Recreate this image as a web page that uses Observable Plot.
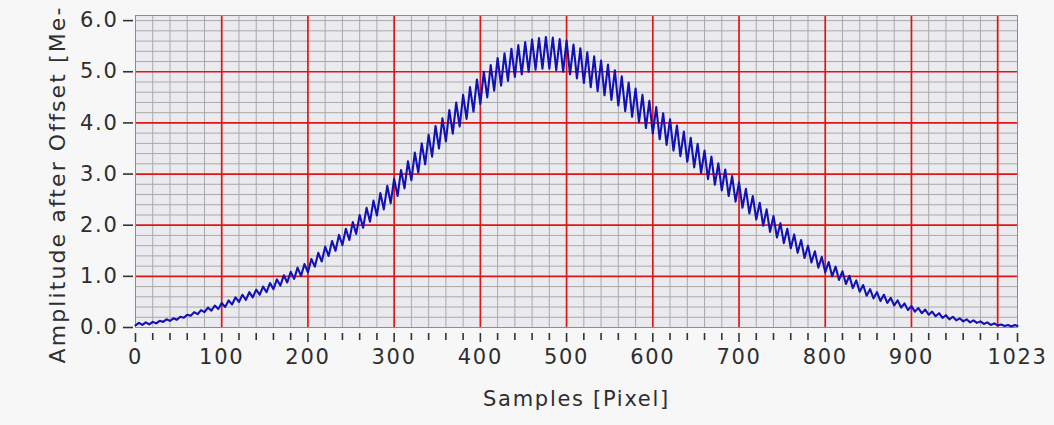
<!DOCTYPE html>
<html>
<head>
<meta charset="utf-8">
<script src="https://cdn.jsdelivr.net/npm/d3@7"></script>
<script src="https://cdn.jsdelivr.net/npm/@observablehq/plot@0.6"></script>
<style>
  html, body { margin: 0; padding: 0; background: #f7f7f7; overflow: hidden; }
  #chart svg text { letter-spacing: 1.7px; }
  #chart svg text[transform*="rotate"] { letter-spacing: 2.1px; }
</style>
</head>
<body>
<div id="chart"></div>
<script>
// Amplitude, one value every 4 samples (alternating trough / peak), last value at sample 1023
const amplitude = [
  0.04,0.09,0.05,0.10,0.06,0.11,0.08,0.13,0.11,0.16,0.13,0.18,0.15,0.21,0.19,0.25,
  0.23,0.30,0.26,0.34,0.30,0.39,0.33,0.43,0.36,0.48,0.40,0.53,0.45,0.59,0.50,0.64,
  0.54,0.69,0.59,0.74,0.64,0.80,0.69,0.87,0.75,0.94,0.82,1.02,0.88,1.09,0.95,1.17,
  1.01,1.24,1.08,1.34,1.19,1.46,1.29,1.58,1.40,1.69,1.50,1.81,1.61,1.93,1.71,2.06,
  1.83,2.20,1.95,2.34,2.07,2.48,2.19,2.63,2.31,2.77,2.43,2.91,2.57,3.08,2.72,3.25,
  2.88,3.42,3.03,3.60,3.19,3.77,3.34,3.94,3.50,4.09,3.64,4.25,3.79,4.40,3.93,4.55,
  4.08,4.70,4.22,4.85,4.37,5.00,4.50,5.13,4.63,5.27,4.73,5.36,4.82,5.45,4.90,5.52,
  4.95,5.58,5.00,5.63,5.04,5.66,5.06,5.68,5.06,5.67,5.03,5.64,5.00,5.61,4.95,5.53,
  4.87,5.46,4.78,5.38,4.70,5.30,4.62,5.22,4.54,5.14,4.45,5.03,4.34,4.91,4.23,4.79,
  4.12,4.67,4.01,4.55,3.90,4.43,3.79,4.31,3.68,4.19,3.57,4.07,3.46,3.95,3.35,3.83,
  3.24,3.71,3.13,3.59,3.02,3.46,2.90,3.34,2.79,3.21,2.68,3.09,2.57,2.96,2.46,2.84,
  2.34,2.71,2.23,2.57,2.11,2.44,1.99,2.31,1.87,2.18,1.76,2.04,1.65,1.93,1.55,1.82,
  1.46,1.71,1.36,1.60,1.27,1.49,1.17,1.38,1.08,1.28,1.00,1.19,0.93,1.10,0.85,1.01,
  0.77,0.92,0.70,0.83,0.62,0.75,0.57,0.69,0.52,0.64,0.48,0.58,0.43,0.53,0.39,0.47,
  0.34,0.42,0.31,0.38,0.28,0.35,0.25,0.31,0.22,0.28,0.19,0.24,0.16,0.21,0.14,0.18,
  0.12,0.16,0.10,0.14,0.09,0.12,0.07,0.10,0.05,0.08,0.04,0.06,0.03,0.05,0.02,0.05,
  0.03
];
const sampleStep = 4;
const lastSample = 1023;

const xLabelTicks = [0, 100, 200, 300, 400, 500, 600, 700, 800, 900, 1023];
const xMinorTicks = [20,40,60,80,120,140,160,180,220,240,260,280,320,340,360,380,420,440,460,480,
  520,540,560,580,620,640,660,680,720,740,760,780,820,840,860,880,920,940,960,980,1000];
const xMajorGrid = [100, 200, 300, 400, 500, 600, 700, 800, 900, 1000];
const xMinorGrid = xMinorTicks;
const yTicks = [0, 1, 2, 3, 4, 5, 6];
const yMajorGrid = [1, 2, 3, 4, 5];
const yMinorGrid = [0.2,0.4,0.6,0.8,1.2,1.4,1.6,1.8,2.2,2.4,2.6,2.8,3.2,3.4,3.6,3.8,
  4.2,4.4,4.6,4.8,5.2,5.4,5.6,5.8,6.0];

const xLabel = "Samples [Pixel]";
const yLabel = "Amplitude after Offset [Me-";

const data = amplitude.map((v, i) => ({
  sample: i === amplitude.length - 1 ? lastSample : i * sampleStep,
  value: v
}));

const font = "'DejaVu Sans', Verdana, sans-serif";

const chart = Plot.plot({
  width: 1054,
  height: 425,
  marginTop: 15,
  marginBottom: 98,
  marginLeft: 135,
  marginRight: 37,
  x: {domain: [0, 1023], axis: null},
  y: {domain: [0, 6.1], axis: null},
  style: {background: "transparent", fontFamily: font, fontSize: "21px", color: "#2e2e2e", overflow: "visible"},
  marks: [
    Plot.frame({fill: "#ebebef"}),
    Plot.ruleX(xMinorGrid, {stroke: "#a9a9a9", strokeWidth: 1}),
    Plot.ruleY(yMinorGrid, {stroke: "#a9a9a9", strokeWidth: 1}),
    Plot.ruleX(xMajorGrid, {stroke: "#e01515", strokeWidth: 1.7}),
    Plot.ruleY(yMajorGrid, {stroke: "#e01515", strokeWidth: 1.7}),
    Plot.frame({stroke: "#8c8c8c", strokeWidth: 1}),
    Plot.line(data, {x: "sample", y: "value", stroke: "#1212b4", strokeWidth: 2.1, strokeLinejoin: "round"}),
    Plot.axisY({ticks: yTicks, tickFormat: d3.format(".1f"), tickSize: 10, tickPadding: 5, dx: -2,
      stroke: "#333", strokeWidth: 1.6, fill: "#2e2e2e", fontSize: 21, label: null}),
    Plot.axisX({ticks: xMinorTicks, tickFormat: () => "", tickSize: 7, dy: 6,
      stroke: "#333", strokeWidth: 1.6, label: null}),
    Plot.axisX({ticks: xLabelTicks, tickFormat: d3.format("d"), tickSize: 9, tickPadding: 7, dy: 6,
      stroke: "#333", strokeWidth: 1.6, fill: "#2e2e2e", fontSize: 21, label: null}),
    Plot.text([xLabel], {frameAnchor: "bottom", dy: 72, lineAnchor: "middle", fontSize: 21, fill: "#2e2e2e"}),
    Plot.text([yLabel], {frameAnchor: "bottom-left", rotate: -90, textAnchor: "start", lineAnchor: "middle",
      dx: -78, dy: 36, fontSize: 22, fill: "#2e2e2e"})
  ]
});
document.getElementById("chart").append(chart);
</script>
</body>
</html>
